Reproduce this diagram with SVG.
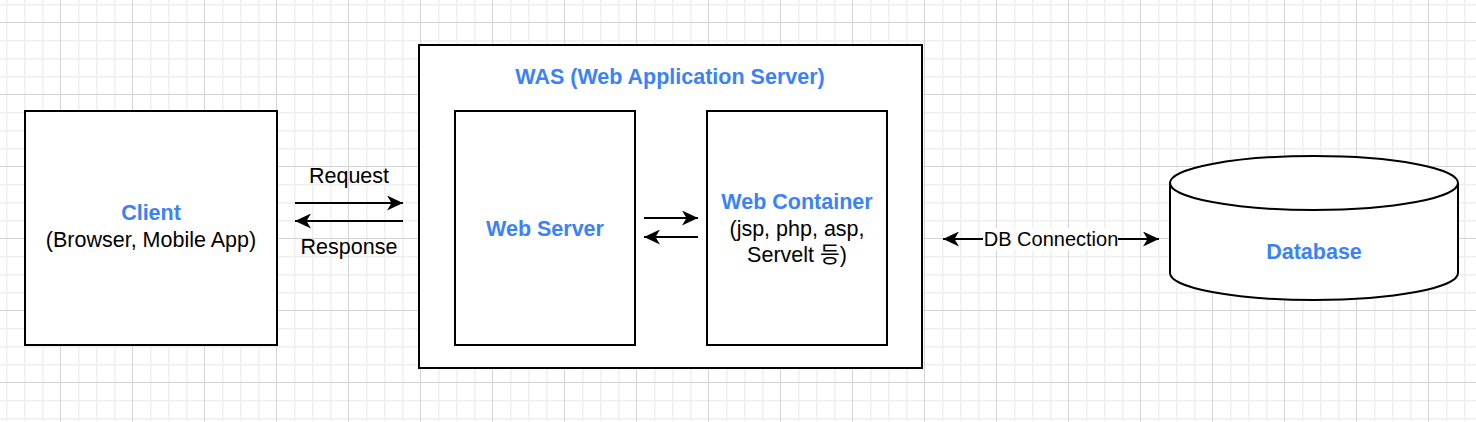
<svg xmlns="http://www.w3.org/2000/svg" width="1476" height="422" viewBox="0 0 1476 422">
  <style>
    .box { fill: #ffffff; stroke: #000000; stroke-width: 2; }
    .conn { fill: none; stroke: #000000; stroke-width: 2; }
    .t { font-family: "Liberation Sans", Arial, sans-serif; font-size: 21.5px; fill: #000000; text-anchor: middle; }
    .b { font-weight: bold; fill: #3b82f6; }
    .s { font-size: 20px; }
  </style>
  <defs>
    <pattern id="grid" x="60" y="22" width="72" height="72" patternUnits="userSpaceOnUse">
      <rect x="0" y="0" width="72" height="72" fill="#ffffff"/>
      <rect x="18" y="0" width="1.5" height="72" fill="#efefef"/>
      <rect x="36" y="0" width="1.5" height="72" fill="#efefef"/>
      <rect x="54" y="0" width="1.5" height="72" fill="#efefef"/>
      <rect x="0" y="18" width="72" height="1.5" fill="#efefef"/>
      <rect x="0" y="36" width="72" height="1.5" fill="#efefef"/>
      <rect x="0" y="54" width="72" height="1.5" fill="#efefef"/>
      <rect x="0" y="0" width="1" height="72" fill="#d4d4d4"/>
      <rect x="0" y="0" width="72" height="1" fill="#d4d4d4"/>
    </pattern>
    <marker id="arrow" markerUnits="userSpaceOnUse" markerWidth="17" markerHeight="15" refX="16" refY="7.5" orient="auto">
      <path d="M0,0 L16,7.5 L0,15 L4.5,7.5 Z" fill="#000000"/>
    </marker>
    <marker id="arrowStart" markerUnits="userSpaceOnUse" markerWidth="17" markerHeight="15" refX="0" refY="7.5" orient="auto">
      <path d="M16,0 L0,7.5 L16,15 L11.5,7.5 Z" fill="#000000"/>
    </marker>
  </defs>
  <rect x="0" y="0" width="1476" height="422" fill="url(#grid)"/>

  <g id="client">
    <rect class="box" x="25" y="111" width="252" height="234"/>
    <text class="t b" x="151" y="220">Client</text>
    <text class="t" x="151" y="247">(Browser, Mobile App)</text>
  </g>

  <g id="was">
    <rect class="box" x="419" y="45" width="503" height="323"/>
    <text class="t b" x="670" y="84">WAS (Web Application Server)</text>
  </g>

  <g id="web-server">
    <rect class="box" x="455" y="111" width="180" height="234"/>
    <text class="t b" x="545" y="236">Web Server</text>
  </g>

  <g id="web-container">
    <rect class="box" x="707" y="111" width="180" height="234"/>
    <text class="t b" x="797" y="209">Web Container</text>
    <text class="t" x="797" y="236">(jsp, php, asp,</text>
    <text class="t" x="797" y="262" style="font-family: 'Liberation Sans', 'Noto Sans CJK KR', Arial, sans-serif;">Servelt 등)</text>
  </g>

  <g id="database">
    <path class="box" d="M1170,183 A144,27 0 0 1 1458,183 L1458,273 A144,27 0 0 1 1170,273 Z"/>
    <path class="conn" d="M1170,183 A144,27 0 0 0 1458,183"/>
    <text class="t b" x="1314" y="259">Database</text>
  </g>

  <g id="connectors">
    <line class="conn" x1="295" y1="203" x2="403" y2="203" marker-end="url(#arrow)"/>
    <line class="conn" x1="403" y1="221" x2="295" y2="221" marker-end="url(#arrow)"/>
    <text class="t" x="349" y="183">Request</text>
    <text class="t" x="349" y="254">Response</text>
    <line class="conn" x1="644" y1="218" x2="698" y2="218" marker-end="url(#arrow)"/>
    <line class="conn" x1="698" y1="237" x2="644" y2="237" marker-end="url(#arrow)"/>
    <line class="conn" x1="943" y1="239" x2="1159" y2="239" marker-start="url(#arrowStart)" marker-end="url(#arrow)"/>
    <rect x="983" y="228" width="135" height="22" fill="#ffffff"/>
    <text class="t s" x="1051" y="245.5">DB Connection</text>
  </g>
</svg>
